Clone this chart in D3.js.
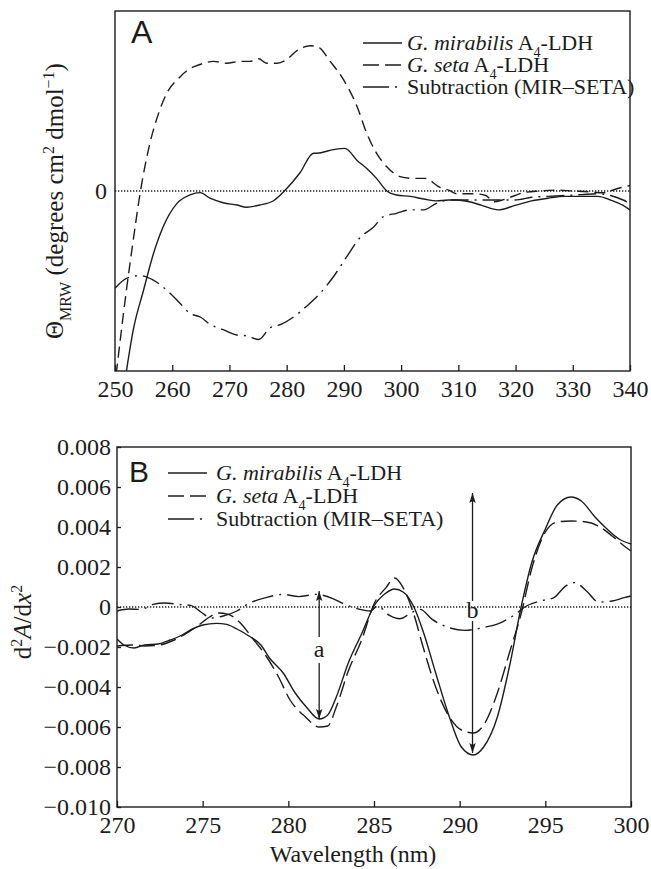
<!DOCTYPE html>
<html>
<head>
<meta charset="utf-8">
<script src="https://cdn.jsdelivr.net/npm/d3@7"></script>
<style>
  body { margin: 0; background: #fff; }
  svg { display: block; }
  text { font-family: "Liberation Serif", "Times New Roman", serif; fill: #1c1c1c; }
</style>
</head>
<body>
<svg width="651" height="869"></svg>
<script>
// ---- panel A: CD spectra, arbitrary units (only 0 is labelled) ----
const mirA = [[251.9,-10.2],[253.2,-7.7],[255.0,-5.5],[256.7,-3.5],[258.4,-2.0],[260.8,-0.7],[263.1,-0.22],[264.9,-0.09],
  [266.6,-0.4],[268.9,-0.65],[271.3,-0.78],[273.0,-0.9],[275.3,-0.78],[277.7,-0.54],[279.6,0],[282.3,1.0],[284.7,2.1],
  [285.3,2.1],[288.2,2.3],[290.2,2.37],[292.3,1.7],[294.0,1.25],[295.7,0.7],[297.5,0],[299.2,-0.22],[301.6,-0.3],
  [304.2,-0.46],[306.1,-0.55],[308.3,-0.5],[309.7,-0.5],[311.9,-0.6],[314.1,-0.8],[317.0,-1.05],[319.9,-0.8],
  [322.8,-0.55],[325.7,-0.4],[328.6,-0.3],[331.5,-0.3],[334.4,-0.3],[336.6,-0.5],[338.8,-0.8],[340,-1.05]];
const setaA = [[250.2,-10.2],[252.0,-5.5],[253.2,-2.7],[254.4,-0.1],[256.1,2.65],[257.6,4.3],[259.0,5.4],[261.4,6.35],
  [263.1,6.8],[264.6,7.0],[267.2,7.2],[269.5,7.1],[271.9,7.2],[273.6,7.2],[275.1,7.35],[276.5,7.1],[278.3,7.1],
  [280.0,7.3],[281.8,7.8],[284.1,8.07],[285.5,8.0],[287.6,7.2],[289.9,6.2],[292.3,4.7],[294.0,3.2],[295.7,2.1],
  [297.5,1.35],[299.8,0.8],[302.1,0.7],[304.2,0.7],[306.8,0.2],[308.3,0.05],[309.7,-0.15],[312.6,-0.15],[314.8,-0.25],
  [316.2,-0.6],[317.7,-0.5],[319.9,-0.25],[321.3,-0.1],[324.2,0],[327.1,0.05],[330.0,0],[333.0,-0.05],[335.1,-0.1],
  [338.0,0.15],[340,0.3]];
const subA = [[250,-5.4],[252.0,-4.85],[254.4,-4.7],[256.7,-4.95],[259.0,-5.5],[261.4,-6.25],[263.1,-6.8],[264.9,-7.0],
  [266.6,-7.4],[268.9,-7.7],[271.3,-8.0],[273.0,-8.05],[275.1,-8.25],[277.1,-7.6],[279.1,-7.4],[281.2,-7.0],[283.5,-6.4],
  [285.8,-5.7],[288.2,-4.75],[290.5,-3.65],[292.8,-2.6],[295.2,-2.0],[296.9,-1.43],[299.2,-1.24],[301.6,-1.05],
  [303.9,-1.05],[306.1,-0.7],[308.3,-0.5],[311.2,-0.5],[314.1,-0.5],[317.0,-0.5],[319.9,-0.5],[322.8,-0.35],
  [325.7,-0.3],[328.6,-0.25],[331.5,-0.2],[334.4,-0.15],[336.6,-0.25],[338.8,-0.5],[340,-0.7]];
const ticksAx = [250,260,270,280,290,300,310,320,330,340];
const ticksAy = [0];

// ---- panel B: second derivative spectra ----
const mirB = [[270,-0.0016],[270.4,-0.0019],[271.0,-0.00205],[271.6,-0.0019],[272.4,-0.00185],[273.1,-0.00165],
  [273.8,-0.0014],[274.4,-0.0011],[275.0,-0.0009],[275.8,-0.00082],[276.4,-0.00087],[277.0,-0.0011],[277.7,-0.00145],
  [278.4,-0.0019],[278.9,-0.00255],[279.7,-0.0033],[280.4,-0.0043],[281.1,-0.00505],[281.8,-0.0056],[282.3,-0.0054],
  [282.8,-0.0045],[283.5,-0.0028],[284.3,-0.0013],[285.0,0.00005],[285.7,0.0007],[286.2,0.0009],[286.7,0.00075],
  [287.3,0.00005],[287.9,-0.0013],[288.6,-0.0033],[289.4,-0.0055],[290.1,-0.0070],[290.8,-0.0074],[291.4,-0.0070],
  [292.2,-0.0055],[292.9,-0.0030],[293.6,0.00005],[294.2,0.0022],[295.0,0.0039],[295.7,0.0051],[296.5,0.0055],
  [297.1,0.0053],[297.9,0.0045],[298.6,0.0039],[299.3,0.0034],[300,0.00315]];
const setaB = [[270,-0.00195],[270.9,-0.0019],[271.6,-0.00195],[272.5,-0.0019],[273.2,-0.0017],[273.9,-0.0014],
  [274.7,-0.00095],[275.4,-0.0005],[275.9,-0.0003],[276.5,-0.00037],[277.2,-0.0008],[277.9,-0.00155],[278.7,-0.00245],
  [279.4,-0.00345],[280.1,-0.00465],[281.0,-0.0055],[281.8,-0.0060],[282.3,-0.00595],[282.8,-0.005],[283.5,-0.0032],
  [284.3,-0.0016],[285.0,0.00015],[285.7,0.00097],[286.2,0.00145],[286.7,0.00097],[287.3,-0.0003],[287.9,-0.0021],
  [288.6,-0.004],[289.4,-0.0055],[290.1,-0.00615],[290.8,-0.0063],[291.4,-0.0059],[292.2,-0.0043],[292.9,-0.0023],
  [293.6,-0.0003],[294.2,0.0019],[295.0,0.00375],[295.7,0.00425],[296.5,0.0043],[297.4,0.00425],[298.1,0.00405],
  [298.9,0.00355],[299.6,0.00305],[300,0.0028]];
const subB = [[270,-0.0002],[270.7,-0.0001],[271.4,-0.00012],[272.1,0.00013],[272.8,0.0002],[273.6,0.00013],
  [274.3,0.00008],[274.9,-0.00025],[275.5,-0.00055],[276.2,-0.00045],[277.0,-0.0002],[277.7,0.00018],[278.7,0.00047],
  [279.7,0.00063],[280.6,0.00052],[281.6,0.00063],[282.6,0.00042],[283.3,0.00013],[284.0,-0.00008],[284.8,-0.0002],
  [285.2,0.00005],[285.9,-0.00042],[286.5,-0.00059],[287.2,-0.00028],[287.7,-0.00012],[288.4,-0.00062],[289.4,-0.00104],
  [290.3,-0.00117],[291.3,-0.00104],[292.3,-0.00082],[293.1,-0.00045],[293.9,0.00005],[294.7,0.0003],[295.5,0.00047],
  [296.2,0.00106],[296.7,0.00122],[297.4,0.0008],[298.1,0.00025],[298.9,0.0003],[299.6,0.00047],[300,0.00055]];
const ticksBx = [270,275,280,285,290,295,300];
const ticksBy = [0.008,0.006,0.004,0.002,0,-0.002,-0.004,-0.006,-0.008,-0.010];
// arrows: wavelength, top value, bottom value, label, gap around label
const arrowsB = [
  {wl: 281.8, top: 0.0008, bottom: -0.0056, label: "a", gapTop: -0.0015, gapBottom: -0.0028},
  {wl: 290.75, top: 0.0057, bottom: -0.0073, label: "b", gapTop: 0.0003, gapBottom: -0.0007}
];

const ink = "#1c1c1c";
const svg = d3.select("svg");
const defs = svg.append("defs");

defs.append("marker").attr("id", "head")
  .attr("viewBox", "-11 -5 12 10").attr("refX", 0).attr("refY", 0)
  .attr("markerWidth", 12).attr("markerHeight", 10)
  .attr("markerUnits", "userSpaceOnUse").attr("orient", "auto")
  .append("path").attr("d", "M-10,-3.2 L0,0 L-10,3.2 L-8,0 Z").attr("fill", ink);

// write text made of plain / italic / sub / sup pieces
function rich(sel, parts, size) {
  let shift = 0;
  parts.forEach(function(p) {
    let t = sel.append("tspan").text(p.t);
    let want = p.sub ? size * 0.3 : (p.sup ? -size * 0.38 : 0);
    if (want !== shift) { t.attr("dy", want - shift); shift = want; }
    if (p.sub || p.sup) t.attr("font-size", size * 0.64);
    if (p.i) t.attr("font-style", "italic");
  });
}

function panel(cfg) {
  let g = svg.append("g");
  let x = d3.scaleLinear().domain(cfg.xDomain).range([cfg.left, cfg.right]);
  let y = d3.scaleLinear().domain(cfg.yDomain).range([cfg.bottom, cfg.top]);

  defs.append("clipPath").attr("id", cfg.id)
    .append("rect").attr("x", cfg.left).attr("y", cfg.top)
    .attr("width", cfg.right - cfg.left).attr("height", cfg.bottom - cfg.top);

  // zero line
  g.append("line").attr("x1", cfg.left).attr("x2", cfg.right)
    .attr("y1", y(0)).attr("y2", y(0))
    .attr("stroke", ink).attr("stroke-width", 1.3).attr("stroke-dasharray", "1.3,1.7");

  let line = d3.line().x(d => x(d[0])).y(d => y(d[1])).curve(d3.curveMonotoneX);
  let curves = g.append("g").attr("clip-path", "url(#" + cfg.id + ")");
  cfg.series.forEach(function(s) {
    curves.append("path").datum(s.data).attr("d", line)
      .attr("fill", "none").attr("stroke", ink).attr("stroke-width", 1.4)
      .attr("stroke-dasharray", s.dash);
  });

  let xa = g.append("g").attr("transform", "translate(0," + cfg.bottom + ")")
    .call(d3.axisBottom(x).tickValues(cfg.xTicks).tickSizeInner(-6).tickSizeOuter(0).tickPadding(9));
  let ya = g.append("g").attr("transform", "translate(" + cfg.left + ",0)")
    .call(d3.axisLeft(y).tickValues(cfg.yTicks).tickSizeInner(cfg.yTickSize).tickSizeOuter(0)
      .tickPadding(cfg.yPad).tickFormat(cfg.yFormat));
  [xa, ya].forEach(function(a) {
    a.select(".domain").remove();
    a.selectAll("line").attr("stroke", ink).attr("stroke-width", 1.3);
    a.selectAll("text").attr("font-family", null).attr("font-size", 24).attr("fill", ink);
  });

  g.append("rect").attr("x", cfg.left).attr("y", cfg.top)
    .attr("width", cfg.right - cfg.left).attr("height", cfg.bottom - cfg.top)
    .attr("fill", "none").attr("stroke", ink).attr("stroke-width", 1.4);

  g.append("text").attr("x", cfg.letterX).attr("y", cfg.letterY)
    .style("font-family", "'Liberation Sans', Arial, sans-serif")
    .attr("font-size", cfg.letterSize).text(cfg.letter);

  // legend
  let lg = g.append("g");
  cfg.series.forEach(function(s, i) {
    let by = cfg.legY + i * cfg.legStep;
    lg.append("line").attr("x1", cfg.legX).attr("x2", cfg.legX + 39)
      .attr("y1", by - 7).attr("y2", by - 7)
      .attr("stroke", ink).attr("stroke-width", 1.4).attr("stroke-dasharray", s.legDash);
    rich(lg.append("text").attr("x", cfg.legX + cfg.legText).attr("y", by).attr("font-size", 22), s.label, 22);
  });

  return {g: g, x: x, y: y};
}

const labMir = [{t: "G. mirabilis", i: true}, {t: " A"}, {t: "4", sub: true}, {t: "-LDH"}];
const labSeta = [{t: "G. seta", i: true}, {t: " A"}, {t: "4", sub: true}, {t: "-LDH"}];
const labSub = [{t: "Subtraction (MIR\u2013SETA)"}];

// panel A
const pA = panel({
  id: "clipA", left: 115, right: 630, top: 11, bottom: 371,
  xDomain: [250, 340], yDomain: [-10, 10], xTicks: ticksAx, yTicks: ticksAy,
  yTickSize: 0, yPad: 8, yFormat: d => "0",
  letter: "A", letterX: 131, letterY: 43, letterSize: 32,
  legX: 363, legText: 44, legY: 50, legStep: 22,
  series: [
    {data: mirA, dash: null, legDash: null, label: labMir},
    {data: setaA, dash: "11,6", legDash: "16,6", label: labSeta},
    {data: subA, dash: "18,6,2,6", legDash: "26,6,2,6", label: labSub}
  ]
});

const yLabA = svg.append("text").attr("transform", "translate(63,201) rotate(-90)")
  .attr("text-anchor", "middle").attr("font-size", 25);
rich(yLabA, [{t: "\u0398"}, {t: "MRW", sub: true}, {t: " (degrees cm"}, {t: "2", sup: true},
  {t: " dmol"}, {t: "\u22121", sup: true}, {t: ")"}], 25);

// panel B
const pB = panel({
  id: "clipB", left: 117, right: 631, top: 447, bottom: 807,
  xDomain: [270, 300], yDomain: [-0.010, 0.008], xTicks: ticksBx, yTicks: ticksBy,
  yTickSize: -4, yPad: 6, yFormat: d => d === 0 ? "0" : d3.format(".3f")(d),
  letter: "B", letterX: 129, letterY: 482, letterSize: 30,
  legX: 168, legText: 48, legY: 480, legStep: 23,
  series: [
    {data: mirB, dash: null, legDash: null, label: labMir},
    {data: setaB, dash: "16,6", legDash: "16,6", label: labSeta},
    {data: subB, dash: "22,6,2,6", legDash: "26,6,2,6", label: labSub}
  ]
});

arrowsB.forEach(function(a) {
  let ax = pB.x(a.wl);
  pB.g.append("line").attr("x1", ax).attr("x2", ax)
    .attr("y1", pB.y(a.gapTop)).attr("y2", pB.y(a.top))
    .attr("stroke", ink).attr("stroke-width", 1.3).attr("marker-end", "url(#head)");
  pB.g.append("line").attr("x1", ax).attr("x2", ax)
    .attr("y1", pB.y(a.gapBottom)).attr("y2", pB.y(a.bottom))
    .attr("stroke", ink).attr("stroke-width", 1.3).attr("marker-end", "url(#head)");
  pB.g.append("text").attr("x", ax).attr("y", pB.y((a.gapTop + a.gapBottom) / 2) + 7)
    .attr("text-anchor", "middle").attr("font-size", 24).text(a.label);
});

const yLabB = svg.append("text").attr("transform", "translate(31,622) rotate(-90)")
  .attr("text-anchor", "middle").attr("font-size", 25);
rich(yLabB, [{t: "d"}, {t: "2", sup: true}, {t: "A", i: true}, {t: "/d"}, {t: "x", i: true}, {t: "2", sup: true}], 25);

svg.append("text").attr("x", 353).attr("y", 862).attr("text-anchor", "middle")
  .attr("font-size", 24).text("Wavelength (nm)");
</script>
</body>
</html>
